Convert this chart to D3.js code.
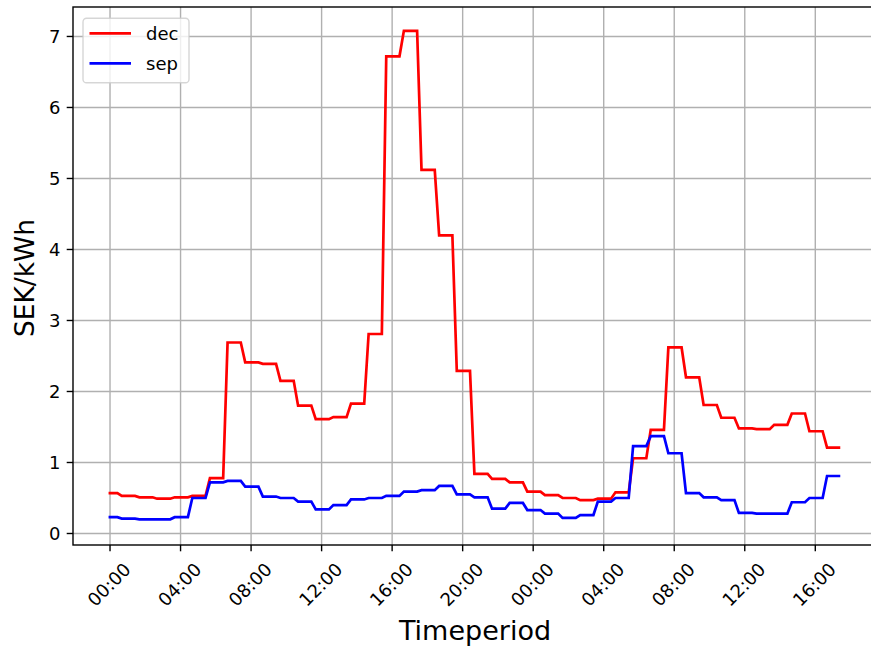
<!DOCTYPE html>
<html>
<head>
<meta charset="utf-8">
<script src="https://cdn.jsdelivr.net/npm/d3@7/dist/d3.min.js"></script>
<style>
  html, body { margin: 0; padding: 0; background: #fff; }
  svg { display: block; font-family: "DejaVu Sans", sans-serif; }
</style>
</head>
<body>
<svg id="chart" width="871" height="648"></svg>
<script>
// Hourly spot prices (SEK/kWh), one value per hour, starting at 00:00 of day one
const decPrices = [0.57, 0.53, 0.51, 0.49, 0.51, 0.53, 0.78, 2.69, 2.41, 2.39,
                   2.15, 1.80, 1.61, 1.64, 1.83, 2.81, 6.72, 7.08, 5.12, 4.20,
                   2.29, 0.84, 0.77, 0.72, 0.59, 0.54, 0.50, 0.47, 0.49, 0.58,
                   1.06, 1.46, 2.62, 2.20, 1.81, 1.63, 1.48, 1.47, 1.53, 1.69,
                   1.44, 1.21];
const sepPrices = [0.23, 0.21, 0.20, 0.20, 0.23, 0.50, 0.72, 0.74, 0.66, 0.52,
                   0.50, 0.45, 0.34, 0.40, 0.48, 0.50, 0.53, 0.59, 0.61, 0.67,
                   0.55, 0.51, 0.35, 0.43, 0.33, 0.28, 0.22, 0.26, 0.45, 0.50,
                   1.23, 1.37, 1.13, 0.57, 0.51, 0.47, 0.29, 0.28, 0.28, 0.44,
                   0.50, 0.81];
const seriesNames = ["dec", "sep"];
const seriesColors = ["#ff0000", "#0000ff"];
const xTickHours = [0, 4, 8, 12, 16, 20, 24, 28, 32, 36, 40];
const xTickLabels = ["00:00", "04:00", "08:00", "12:00", "16:00", "20:00",
                     "00:00", "04:00", "08:00", "12:00", "16:00"];
const yTicks = [0, 1, 2, 3, 4, 5, 6, 7];

const svg = d3.select("#chart");
const plot = { left: 73, top: 7, bottom: 545, right: 877 };

const x = d3.scaleLinear().domain([-2.1, 43.5]).range([plot.left, plot.right]);
const y = d3.scaleLinear().domain([-0.162, 7.415]).range([plot.bottom, plot.top]);

// Each hourly price is sampled every 15 minutes: flat for three quarters, then a ramp to the next hour.
function vertices(values) {
  const pts = [];
  values.forEach((v, j) => {
    if (j === 0) {
      pts.push([-1 / 12, v], [5 / 12, v]);
    } else {
      pts.push([j - 1 / 3, v], [j + 5 / 12, v]);
    }
  });
  return pts;
}

const gridColor = "#b0b0b0";

// grid
const grid = svg.append("g");
xTickHours.forEach(h => {
  grid.append("line")
    .attr("x1", x(h)).attr("x2", x(h))
    .attr("y1", plot.top).attr("y2", plot.bottom)
    .attr("stroke", gridColor).attr("stroke-width", 1.4);
});
yTicks.forEach(t => {
  grid.append("line")
    .attr("x1", plot.left).attr("x2", plot.right)
    .attr("y1", y(t)).attr("y2", y(t))
    .attr("stroke", gridColor).attr("stroke-width", 1.4);
});

// series lines
const line = d3.line().x(d => x(d[0])).y(d => y(d[1]));
[decPrices, sepPrices].forEach((vals, i) => {
  svg.append("path")
    .attr("d", line(vertices(vals)))
    .attr("fill", "none")
    .attr("stroke", seriesColors[i])
    .attr("stroke-width", 2.7)
    .attr("stroke-linejoin", "miter");
});

// spines
svg.append("rect")
  .attr("x", plot.left).attr("y", plot.top)
  .attr("width", plot.right - plot.left).attr("height", plot.bottom - plot.top)
  .attr("fill", "none").attr("stroke", "#000").attr("stroke-width", 1.4);

// y axis ticks and labels
const yAxis = svg.append("g");
yTicks.forEach(t => {
  yAxis.append("line")
    .attr("x1", plot.left - 6.3).attr("x2", plot.left)
    .attr("y1", y(t)).attr("y2", y(t))
    .attr("stroke", "#000").attr("stroke-width", 1.4);
  yAxis.append("text")
    .attr("x", plot.left - 12.5).attr("y", y(t))
    .attr("text-anchor", "end").attr("dominant-baseline", "central")
    .attr("font-size", 18).attr("fill", "#000")
    .text(t);
});

// x axis ticks and rotated labels
const xAxis = svg.append("g");
xTickHours.forEach((h, i) => {
  const px = x(h);
  xAxis.append("line")
    .attr("x1", px).attr("x2", px)
    .attr("y1", plot.bottom).attr("y2", plot.bottom + 6.3)
    .attr("stroke", "#000").attr("stroke-width", 1.4);
  const cy = 584.5;
  xAxis.append("text")
    .attr("x", px - 1).attr("y", cy)
    .attr("text-anchor", "middle").attr("dominant-baseline", "central")
    .attr("transform", `rotate(-45,${px - 1},${cy})`)
    .attr("font-size", 18).attr("fill", "#000")
    .text(xTickLabels[i]);
});

// axis titles
svg.append("text")
  .attr("x", (73 + 877) / 2).attr("y", 640)
  .attr("text-anchor", "middle")
  .attr("font-size", 27).attr("fill", "#000")
  .text("Timeperiod");
svg.append("text")
  .attr("transform", `translate(33.5,${(plot.top + plot.bottom) / 2 + 2}) rotate(-90)`)
  .attr("text-anchor", "middle")
  .attr("font-size", 26.5).attr("fill", "#000")
  .text("SEK/kWh");

// legend
const legend = svg.append("g");
legend.append("rect")
  .attr("x", 83).attr("y", 18.3).attr("width", 106).attr("height", 64.5)
  .attr("rx", 3.6).attr("ry", 3.6)
  .attr("fill", "rgba(255,255,255,0.8)")
  .attr("stroke", "rgba(204,204,204,0.8)").attr("stroke-width", 1.4);
seriesNames.forEach((name, i) => {
  const ly = 33.3 + i * 30;
  legend.append("line")
    .attr("x1", 89.5).attr("x2", 131)
    .attr("y1", ly).attr("y2", ly)
    .attr("stroke", seriesColors[i]).attr("stroke-width", 2.7);
  legend.append("text")
    .attr("x", 146).attr("y", ly)
    .attr("dominant-baseline", "central")
    .attr("font-size", 18).attr("fill", "#000")
    .text(name);
});
</script>
</body>
</html>
